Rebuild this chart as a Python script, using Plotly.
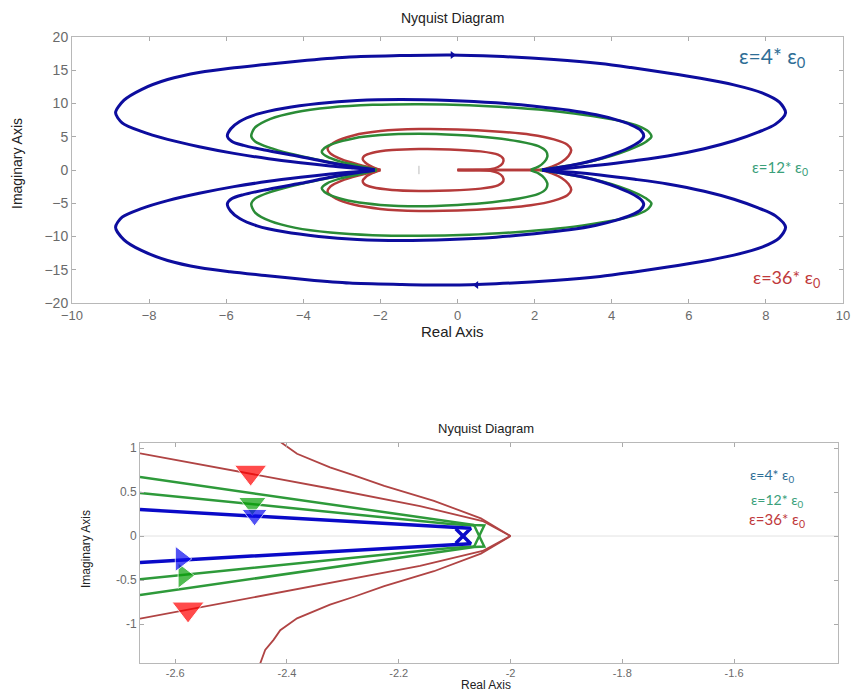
import plotly.graph_objects as go

# ---------------- data: top panel (upper half, w>0; lower half is the mirror) ----------------
blue_outer_x = [2.2, 3.0, 3.7, 4.6, 5.45, 6.4, 7.17, 7.8, 8.25, 8.51, 8.35, 7.9, 7.17, 6.3, 5.45, 4.5, 3.7, 2.5, 1.0, -0.2, -1.5, -2.8, -3.9, -4.93, -5.9, -6.67, -7.52, -8.2, -8.65, -8.87, -8.7, -8.2, -7.52, -6.7, -5.8, -4.9, -4.07, -3.3, -2.7, -2.15]
blue_outer_y = [0.0, 0.35, 0.75, 1.4, 2.1, 3.2, 4.4, 5.7, 6.9, 8.6, 10.2, 11.6, 12.8, 13.8, 14.6, 15.4, 16.0, 16.6, 17.1, 17.3, 17.2, 17.0, 16.5, 15.9, 15.3, 14.7, 13.6, 12.1, 10.5, 8.6, 7.1, 5.8, 4.6, 3.5, 2.5, 1.7, 1.1, 0.6, 0.3, 0.05]
blue_inner_x = [2.2, 2.7, 3.28, 3.75, 4.15, 4.5, 4.75, 4.83, 4.75, 4.5, 4.15, 3.6, 2.9, 2.0, 1.0, -0.2, -1.48, -2.6, -3.6, -4.5, -5.2, -5.65, -5.88, -5.97, -5.85, -5.55, -5.0, -4.07, -3.3, -2.7, -2.15]
blue_inner_y = [0.0, 0.45, 1.1, 1.8, 2.6, 3.5, 4.4, 5.1, 6.0, 6.8, 7.5, 8.3, 9.0, 9.6, 10.1, 10.45, 10.6, 10.45, 10.0, 9.3, 8.4, 7.3, 6.2, 5.1, 4.3, 3.7, 3.0, 2.0, 1.1, 0.5, 0.05]
green_big_x = [2.15, 2.7, 3.3, 3.8, 4.2, 4.6, 4.9, 5.03, 4.95, 4.7, 4.2, 3.5, 2.6, 1.5, 0.3, -1.0, -2.2, -3.3, -4.2, -4.85, -5.25, -5.35, -5.25, -4.9, -4.3, -3.6, -2.9, -2.1]
green_big_y = [0.0, 0.5, 1.1, 1.8, 2.5, 3.4, 4.3, 5.0, 5.8, 6.6, 7.4, 8.1, 8.8, 9.35, 9.75, 9.9, 9.8, 9.4, 8.7, 7.7, 6.4, 5.1, 4.3, 3.4, 2.4, 1.5, 0.75, 0.05]
green_small_x = [1.9, 2.1, 2.25, 2.33, 2.3, 2.1, 1.6, 0.9, 0.0, -1.0, -2.0, -2.7, -3.2, -3.45, -3.52, -3.38, -3.05, -2.6, -2.1]
green_small_y = [0.05, 0.5, 1.2, 2.0, 2.8, 3.6, 4.3, 4.85, 5.25, 5.45, 5.25, 4.75, 4.0, 3.3, 2.7, 2.0, 1.3, 0.7, 0.05]
red_outer_x = [2.2, 2.45, 2.7, 2.88, 2.95, 2.85, 2.5, 1.9, 1.0, 0.0, -1.0, -2.0, -2.7, -3.15, -3.37, -3.3, -3.0, -2.55, -2.0]
red_outer_y = [0.05, 0.5, 1.2, 2.1, 3.0, 3.8, 4.6, 5.3, 5.8, 6.1, 6.15, 5.85, 5.2, 4.3, 3.3, 2.5, 1.6, 0.8, 0.0]
red_small_x = [0.0, 0.5, 0.85, 1.05, 1.17, 1.19, 1.05, 0.6, -0.2, -1.0, -1.7, -2.2, -2.42, -2.46, -2.38, -2.2, -2.0]
red_small_y = [0.0, 0.03, 0.12, 0.45, 1.0, 1.65, 2.3, 2.8, 3.1, 3.15, 3.0, 2.6, 2.1, 1.65, 1.05, 0.45, 0.0]
red_tail_x = [0.0, 2.2]
red_tail_y = [0.0, 0.03]
top_arrow_x = [-0.13, 0.49]
top_arrow_y = [17.3, -17.3]

# ---------------- data: bottom panel (zoom near -2) ----------------
zb_blue_x = [-2.663, -2.323, -2.098, -2.071, -2.098]
zb_blue_y = [0.30, 0.175, 0.09, 0.087, -0.083]
zb_green1_x = [-2.663, -2.323, -2.108, -2.065, -2.047, -2.065]
zb_green1_y = [0.67, 0.36, 0.16, 0.125, 0.12, -0.12]
zb_green2_x = [-2.663, -2.323, -2.108, -2.065]
zb_green2_y = [0.49, 0.275, 0.136, 0.12]
zb_redA_x = [-2.663, -2.424, -2.323, -2.162, -2.05, -2.0]
zb_redA_y = [0.94, 0.656, 0.54, 0.34, 0.17, 0.0]
zb_redB_x = [-2.448, -2.439, -2.424, -2.412, -2.382, -2.323, -2.28, -2.226, -2.137, -2.053, -2.0]
zb_redB_y = [1.45, 1.295, 1.18, 1.07, 0.935, 0.78, 0.69, 0.57, 0.40, 0.20, 0.0]
zb_arrow_x = [-2.465, -2.462, -2.458, -2.577, -2.585, -2.59]
zb_arrow_y = [0.725, 0.37, 0.24, -0.83, -0.45, -0.26]

top_xticks = [-10, -8, -6, -4, -2, 0, 2, 4, 6, 8, 10]
top_yticks = [-20, -15, -10, -5, 0, 5, 10, 15, 20]
bot_xticks = [-2.6, -2.4, -2.2, -2.0, -1.8, -1.6]
bot_xticklabels = ["-2.6", "-2.4", "-2.2", "-2", "-1.8", "-1.6"]
bot_yticks = [-1, -0.5, 0, 0.5, 1]
bot_yticklabels = ["-1", "-0.5", "0", "0.5", "1"]
labels = ["ε=4* ε<sub>0</sub>", "ε=12* ε<sub>0</sub>", "ε=36* ε<sub>0</sub>"]

BLUE = "#0d0d9e"
GREEN = "#2a8c36"
RED = "#b53a3a"
W, H = 852, 691

fig = go.Figure()

def add_mirror(x, y, color, width, xa="x", ya="y", shape="spline"):
    for sgn in (1, -1):
        fig.add_trace(go.Scatter(x=x, y=[sgn * v for v in y], mode="lines",
                                 line=dict(color=color, width=width, shape=shape,
                                           smoothing=0.8 if shape == "spline" else None),
                                 xaxis=xa, yaxis=ya, showlegend=False, hoverinfo="skip"))

# top panel
add_mirror(red_tail_x, red_tail_y, RED, 2.5, shape="linear")
add_mirror(red_small_x, red_small_y, RED, 2.5)
add_mirror(red_outer_x, red_outer_y, RED, 2.5)
add_mirror(green_small_x, green_small_y, GREEN, 2.5)
add_mirror(green_big_x, green_big_y, GREEN, 2.5)
add_mirror(blue_inner_x, blue_inner_y, BLUE, 3)
add_mirror(blue_outer_x, blue_outer_y, BLUE, 3)
fig.add_trace(go.Scatter(x=top_arrow_x, y=top_arrow_y, mode="markers",
                         marker=dict(symbol=["triangle-right", "triangle-left"], size=7, color=BLUE),
                         showlegend=False, hoverinfo="skip"))
fig.add_trace(go.Scatter(x=[-1], y=[0], mode="markers",
                         marker=dict(symbol="line-ns", size=6, line=dict(color="#bbbbbb", width=1)),
                         showlegend=False, hoverinfo="skip"))

# bottom panel
add_mirror(zb_redB_x, zb_redB_y, "#b04444", 1.8, "x2", "y2", "linear")
add_mirror(zb_redA_x, zb_redA_y, "#b04444", 1.8, "x2", "y2", "linear")
add_mirror(zb_green2_x, zb_green2_y, "#2e9a3a", 2.5, "x2", "y2", "linear")
add_mirror(zb_green1_x, zb_green1_y, "#2e9a3a", 2.5, "x2", "y2", "linear")
add_mirror(zb_blue_x, zb_blue_y, "#0a0ac8", 3.5, "x2", "y2", "linear")
fig.add_trace(go.Scatter(
    x=zb_arrow_x, y=zb_arrow_y, mode="markers", xaxis="x2", yaxis="y2",
    marker=dict(symbol=["triangle-down", "triangle-down", "triangle-down",
                        "triangle-down", "triangle-right", "triangle-right"],
                size=[28, 24, 22, 28, 22, 22],
                color=["#ff0000", "#08a008", "#0a0af0", "#ff0000", "#08a008", "#0a0af0"]),
    showlegend=False, hoverinfo="skip"))

def axis(domain, rng, tickvals, anchor, size, ticktext=None):
    d = dict(domain=domain, range=rng, tickvals=tickvals, anchor=anchor, automargin=False,
             showgrid=False, zeroline=False, showline=True, linecolor="#b8b8b8", linewidth=1,
             mirror="ticks", ticks="inside", ticklen=4, tickcolor="#aaaaaa",
             tickfont=dict(family="Liberation Sans, Arial", color="#6a6a6a", size=size))
    if ticktext is not None:
        d["ticktext"] = ticktext
    return d

fig.update_layout(
    template="none",
    width=W, height=H, margin=dict(l=0, r=0, t=0, b=0, autoexpand=False),
    paper_bgcolor="white", plot_bgcolor="white",
    xaxis=axis([72 / W, 843 / W], [-10, 10], top_xticks, "y", 13),
    yaxis=axis([1 - 303 / H, 1 - 37 / H], [-20, 20], top_yticks, "x", 14),
    xaxis2=axis([140 / W, 838 / W], [-2.663, -1.414], bot_xticks, "y2", 11, bot_xticklabels),
    yaxis2=axis([1 - 663 / H, 1 - 443 / H], [-1.443, 1.057], bot_yticks, "x2", 12, bot_yticklabels),
)

fig.add_shape(type="line", xref="x2", yref="y2", x0=-2.663, x1=-1.414, y0=0, y1=0,
              line=dict(color="#e2e2e2", width=1), layer="below")

def ann(text, px, py, size, color="#222222", family="Liberation Sans, Arial", angle=0):
    fig.add_annotation(text=text, x=px / W, y=1 - py / H, xref="paper", yref="paper",
                       showarrow=False, textangle=angle, xanchor="center", yanchor="middle",
                       font=dict(size=size, color=color, family=family))

ann("Nyquist Diagram", 452, 18, 14)
ann("Real Axis", 453, 331, 15)
ann("Imaginary Axis", 17, 164, 14, angle=-90)
ann("Nyquist Diagram", 486, 428, 13)
ann("Real Axis", 486, 685, 12)
ann("Imaginary Axis", 86, 549, 12, angle=-90)

ann(labels[0], 772, 57, 21, "#2f6e96", "Lato, Open Sans")
ann(labels[1], 780, 168, 15, "#3aa07a", "Lato, Open Sans")
ann(labels[2], 786, 278, 18, "#c0393b", "Lato, Open Sans")
ann(labels[0], 772, 475, 14, "#2f6e96", "Lato, Open Sans")
ann(labels[1], 777, 500, 14, "#3aa07a", "Lato, Open Sans")
ann(labels[2], 777, 520, 15, "#c0393b", "Lato, Open Sans")

fig.write_html("out.html", config={"displayModeBar": False},
               post_script="document.body.style.margin='0';document.body.style.overflow='hidden';")
